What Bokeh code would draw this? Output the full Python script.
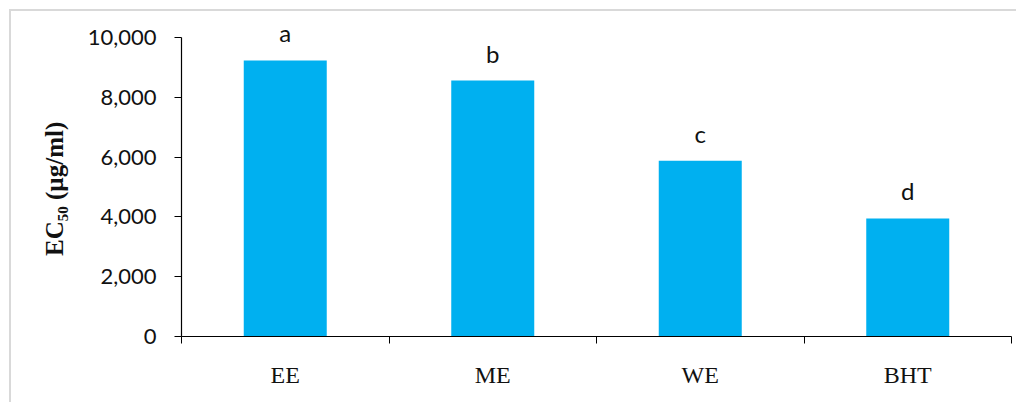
from bokeh.plotting import figure
from bokeh.models import ColumnDataSource, LabelSet, FixedTicker, NumeralTickFormatter, Range1d
from bokeh.core.properties import value
from bokeh.embed import file_html
from bokeh.resources import INLINE

categories = ["EE", "ME", "WE", "BHT"]
values = [9230, 8560, 5880, 3950]
letters = ["a", "b", "c", "d"]
y_ticks = [0, 2000, 4000, 6000, 8000, 10000]

xs = [i + 0.5 for i in range(len(categories))]
bounds = [i for i in range(len(categories) + 1)]
src = ColumnDataSource(dict(x=xs, top=values, cat=categories, letter=letters))

p = figure(width=1016, height=402, x_range=Range1d(0, len(categories)), y_range=Range1d(0, 10500),
           output_backend="svg", toolbar_location=None,
           min_border_left=181, min_border_right=5, min_border_top=22, min_border_bottom=66)
p.styles = {
    "background-image": "linear-gradient(#d9d9d9, #d9d9d9), linear-gradient(#d9d9d9, #d9d9d9)",
    "background-position": "9px 9px, 9px 9px",
    "background-size": "2px 100%, 100% 2px",
    "background-repeat": "no-repeat",
}
p.background_fill_color = "white"
p.border_fill_color = None
p.outline_line_color = None
p.xgrid.visible = False
p.ygrid.visible = False

p.vbar(x="x", top="top", bottom=0, width=0.4, source=src, fill_color="#00B0F0", line_color=None)

labels = LabelSet(x="x", y="top", text="letter", source=src, y_offset=18, text_align="center",
                  text_baseline="alphabetic", text_font=value("Lato"), text_font_size=value("24px"),
                  text_color="#111111")
p.add_layout(labels)

xa = p.xaxis[0]
xa.ticker = FixedTicker(ticks=xs, minor_ticks=bounds)
xa.major_label_overrides = {x: c for x, c in zip(xs, categories)}
xa.major_tick_out = 0
xa.major_tick_in = 0
xa.minor_tick_out = 7
xa.minor_tick_in = 0
xa.minor_tick_line_color = "black"
xa.axis_line_color = "black"
xa.axis_line_width = 1.2
xa.major_label_text_font = "Liberation Serif"
xa.major_label_text_font_size = "24px"
xa.major_label_text_color = "#111111"
xa.major_label_standoff = 18

ya = p.yaxis[0]
ya.bounds = (0, 10000)
ya.ticker = FixedTicker(ticks=y_ticks, minor_ticks=[])
ya.formatter = NumeralTickFormatter(format="0,0")
ya.major_tick_out = 7
ya.major_tick_in = 0
ya.major_tick_line_color = "black"
ya.axis_line_color = "black"
ya.axis_line_width = 1.2
ya.major_label_text_font = "Lato"
ya.major_label_text_font_size = "22px"
ya.major_label_text_color = "#111111"
ya.major_label_standoff = 18
ya.axis_label = "EC\u2085\u2080 (µg/ml)\u00a0\u00a0\u00a0"
ya.axis_label_text_font = "Liberation Serif"
ya.axis_label_text_font_style = "bold"
ya.axis_label_text_font_size = "25px"
ya.axis_label_text_color = "#111111"
ya.axis_label_standoff = 17

open("out.html", "w").write(file_html(p, INLINE))
